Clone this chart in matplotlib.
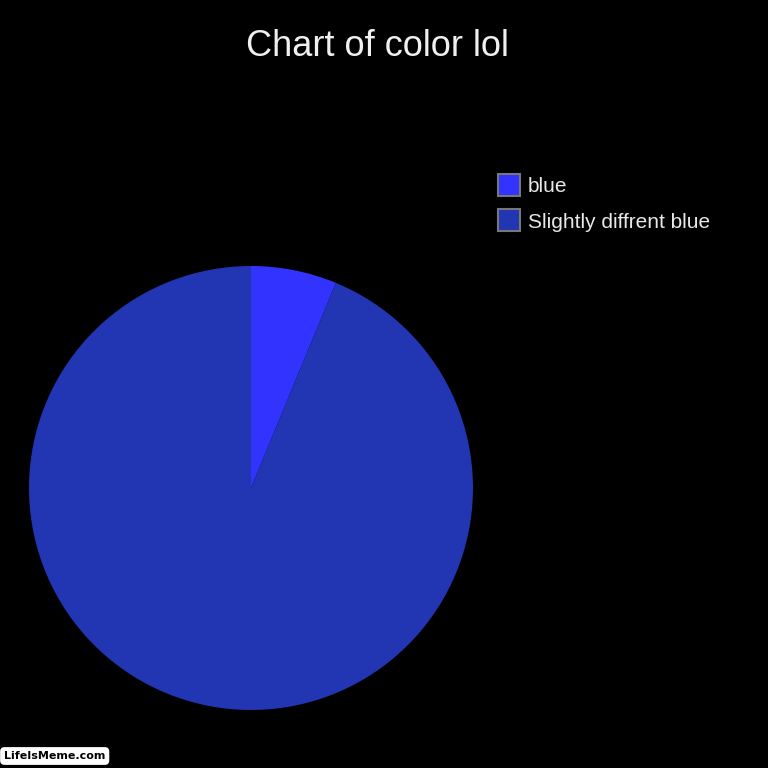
import matplotlib.pyplot as plt
import matplotlib.patches as mpatches

# slice data
labels = ["blue", "Slightly diffrent blue"]
values = [1, 15]
colors = ["#3333ff", "#2236b4"]

plt.rcParams["font.family"] = ["Liberation Sans", "DejaVu Sans"]

fig = plt.figure(figsize=(7.68, 7.68), dpi=100, facecolor="black")

# pie axes: centre ~ (251, 488) px, radius ~ 222 px
cx, cy, r = 251 / 768, 1 - 488 / 768, 222 / 768
ax = fig.add_axes([cx - r, cy - r, 2 * r, 2 * r])
ax.set_facecolor("black")
wedges, _ = ax.pie(values, colors=colors, startangle=90, counterclock=False,
                   radius=1, wedgeprops=dict(linewidth=0))
ax.set_xlim(-1, 1)
ax.set_ylim(-1, 1)
ax.set_aspect("equal")
ax.axis("off")

fig.text(0.492, 1 - 47 / 768, "Chart of color lol", color="#f0f0f0",
         fontsize=26, ha="center", va="center")

# legend drawn by hand
for i, (lab, col) in enumerate(zip(labels, colors)):
    y = 185 + i * 35
    sq = mpatches.Rectangle((498 / 768, 1 - (y + 11) / 768), 22 / 768, 22 / 768,
                            transform=fig.transFigure, facecolor=col,
                            edgecolor="#777777", linewidth=1.5)
    fig.patches.append(sq)
    fig.text(528 / 768, 1 - (y + 2) / 768, lab, color="#e8e8e8", fontsize=15,
             ha="left", va="center")

# watermark
fig.text(4 / 768, 1 - 756 / 768, "LifeIsMeme.com", color="black", fontsize=8,
         fontweight="bold", ha="left", va="center", family=["DejaVu Sans"],
         bbox=dict(boxstyle="round,pad=0.35,rounding_size=0.4", facecolor="white",
                   edgecolor="none"))

fig.savefig("out.png", dpi=100, facecolor="black")
